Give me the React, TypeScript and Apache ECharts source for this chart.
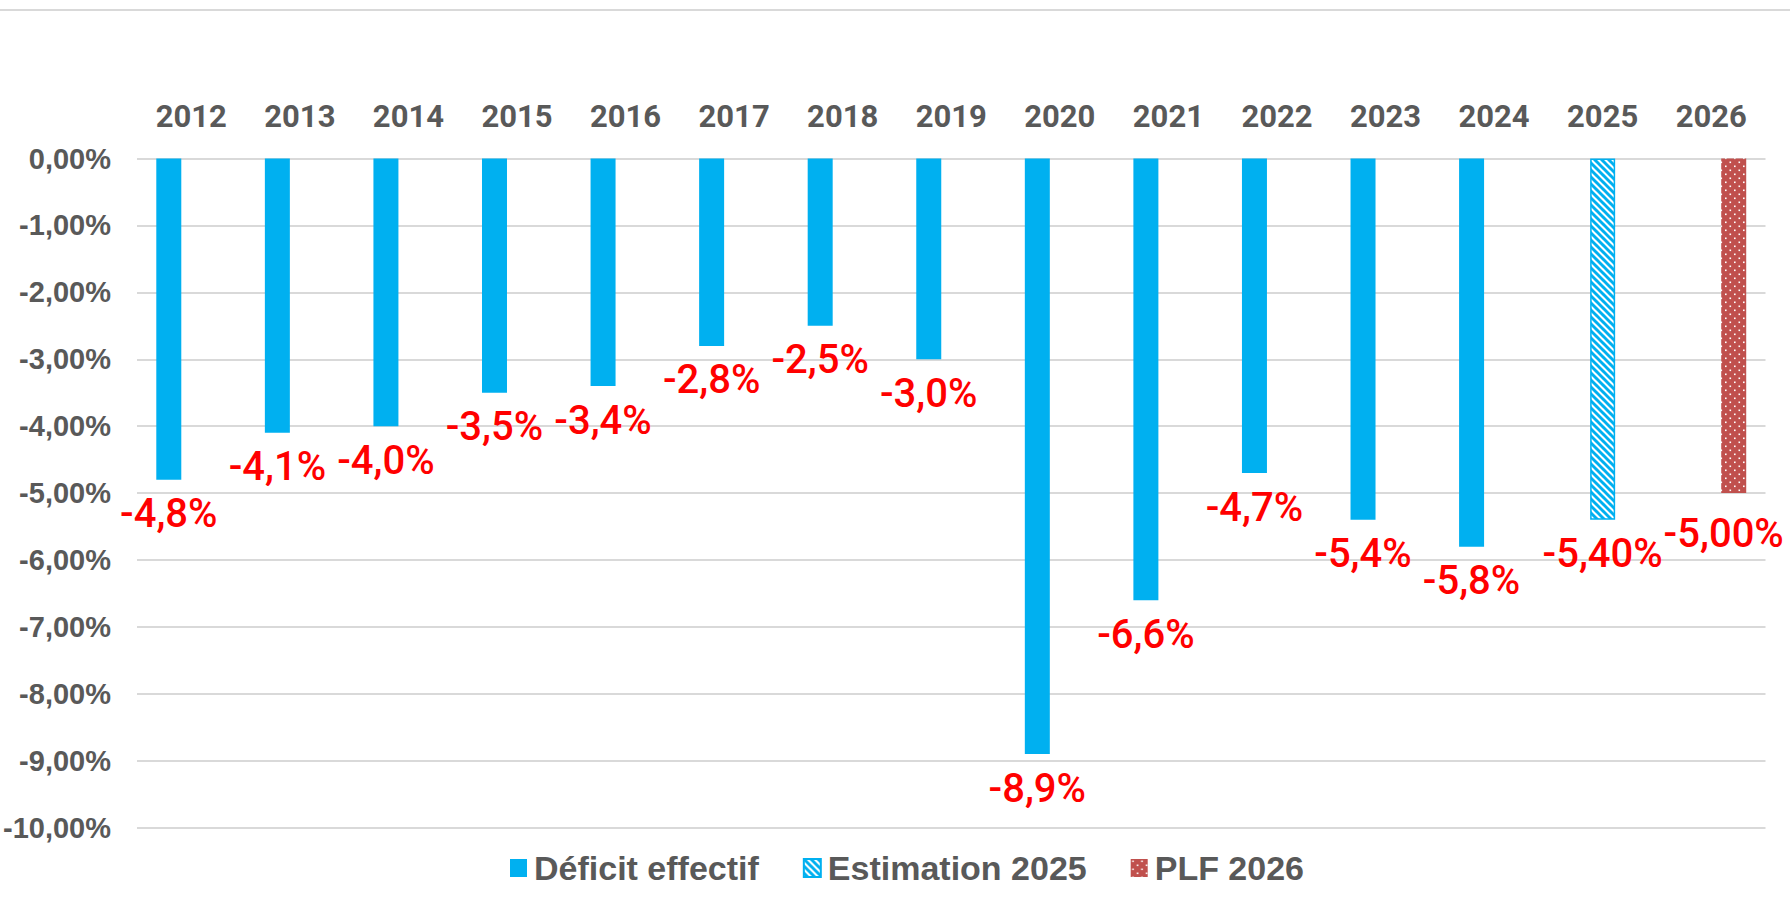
import React, { useEffect, useRef } from "react";
import * as echarts from "echarts";

const categories = ["2012", "2013", "2014", "2015", "2016", "2017", "2018", "2019", "2020", "2021", "2022", "2023", "2024", "2025", "2026"];
const deficitValues = [-4.8, -4.1, -4.0, -3.5, -3.4, -2.8, -2.5, -3.0, -8.9, -6.6, -4.7, -5.4, -5.8];
const estimationYears = ["2025"];
const estimationValues = [-5.4];
const plfYears = ["2026"];
const plfValues = [-5.0];
const seriesNames = ["Déficit effectif", "Estimation 2025", "PLF 2026"];
const yTicks = { min: -10, max: 0, interval: 1 };

const BLUE = "#00B0F0";
const RED = "#C0504D";
const GREY = "#595959";

function makeHatch() {
  const s = 7;
  const c = document.createElement("canvas");
  c.width = s;
  c.height = s;
  const g = c.getContext("2d")!;
  g.fillStyle = "#ffffff";
  g.fillRect(0, 0, s, s);
  g.strokeStyle = BLUE;
  g.lineWidth = 2.9;
  for (const off of [-s, 0, s]) {
    g.beginPath();
    g.moveTo(-1, off - 1);
    g.lineTo(s + 1, s + off + 1);
    g.stroke();
  }
  return { image: c, repeat: "repeat", imageWidth: s, imageHeight: s };
}

function makeDots() {
  const w = 9;
  const h = 8;
  const c = document.createElement("canvas");
  c.width = w;
  c.height = h;
  const g = c.getContext("2d")!;
  g.fillStyle = RED;
  g.fillRect(0, 0, w, h);
  g.fillStyle = "#ffffff";
  g.fillRect(1.5, 1.5, 1.6, 1.6);
  g.fillRect(6, 5.5, 1.6, 1.6);
  return { image: c, repeat: "repeat", imageWidth: w, imageHeight: h };
}

const fmt = (v: number, d: number) => v.toFixed(d).replace(".", ",") + "%";

export default function App() {
  const ref = useRef<HTMLDivElement>(null);
  useEffect(() => {
    document.body.style.margin = "0";
    const chart = echarts.init(ref.current!, null, { renderer: "svg" });

    const labelBase = {
      show: true,
      position: "bottom",
      distance: 14,
      color: "#FF0000",
      fontSize: 40,
      fontFamily: "Roboto",
      fontWeight: 500,
    };

    const deficitData = categories.map((_, i) => (i < deficitValues.length ? deficitValues[i] : null));
    const estimationData = categories.map((c) => {
      const k = estimationYears.indexOf(c);
      return k >= 0 ? estimationValues[k] : null;
    });
    const plfData = categories.map((c, i) => {
      const k = plfYears.indexOf(c);
      if (k < 0) return null;
      return i === categories.length - 1
        ? { value: plfValues[k], label: { offset: [-10, 6] } }
        : plfValues[k];
    });

    chart.setOption({
      animation: false,
      backgroundColor: "#ffffff",
      graphic: [
        {
          type: "line",
          shape: { x1: 0, y1: 10, x2: 1790, y2: 10 },
          style: { stroke: "#d9d9d9", lineWidth: 2 },
        },
      ],
      grid: { left: 136.7, right: 24.5, top: 158.5, bottom: 76.3, containLabel: false },
      legend: {
        left: 505,
        top: 846,
        itemWidth: 17,
        itemHeight: 18,
        itemGap: 44,
        icon: "rect",
        data: seriesNames,
        textStyle: {
          color: GREY,
          fontFamily: "Liberation Sans",
          fontWeight: "bold",
          fontSize: 34,
          padding: [0, 0, 0, 2],
        },
      },
      xAxis: {
        type: "category",
        position: "top",
        data: categories,
        axisLine: { show: false },
        axisTick: { show: false },
        splitLine: { show: false },
        axisLabel: {
          color: GREY,
          fontFamily: "Roboto",
          fontWeight: "bold",
          fontSize: 31,
          margin: 27,
          interval: 0,
        },
      },
      yAxis: {
        type: "value",
        min: yTicks.min,
        max: yTicks.max,
        interval: yTicks.interval,
        axisLine: { show: false },
        axisTick: { show: false },
        splitLine: { show: true, lineStyle: { color: "#d9d9d9", width: 2 } },
        axisLabel: {
          color: GREY,
          fontFamily: "Liberation Sans",
          fontWeight: "bold",
          fontSize: 29,
          margin: 26,
          formatter: (v: number) => fmt(v, 2),
        },
      },
      series: [
        {
          name: seriesNames[0],
          type: "bar",
          data: deficitData,
          barWidth: 25,
          barGap: "-10%",
          itemStyle: { color: BLUE },
          label: { ...labelBase, formatter: (p: any) => fmt(p.value, 1) },
        },
        {
          name: seriesNames[1],
          type: "bar",
          data: estimationData,
          barWidth: 25,
          barGap: "-10%",
          itemStyle: { color: makeHatch(), borderColor: BLUE, borderWidth: 1.5 },
          label: { ...labelBase, formatter: (p: any) => fmt(p.value, 2) },
        },
        {
          name: seriesNames[2],
          type: "bar",
          data: plfData,
          barWidth: 25,
          barGap: "-10%",
          itemStyle: { color: makeDots() },
          label: { ...labelBase, formatter: (p: any) => fmt(typeof p.value === "number" ? p.value : p.data.value, 2) },
        },
      ],
    });
    return () => chart.dispose();
  }, []);
  return <div ref={ref} style={{ position: "fixed", left: 0, top: 0, width: 1790, height: 904 }} />;
}
